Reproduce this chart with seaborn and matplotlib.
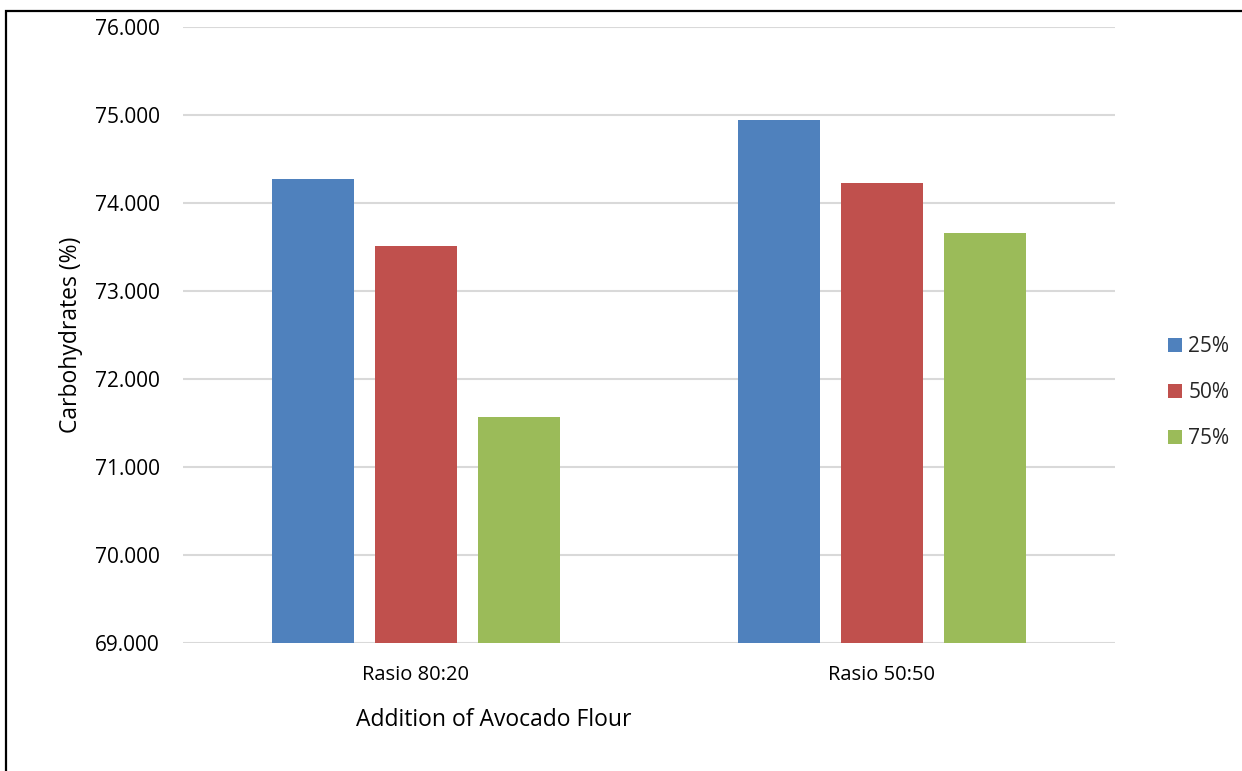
import matplotlib
matplotlib.use("Agg")
import matplotlib.pyplot as plt
import matplotlib.patches as mpatches
import seaborn as sns
import pandas as pd

# Carbohydrate content by flour ratio and avocado flour addition
ratios = ["Rasio 80:20", "Rasio 50:50"]
levels = ["25%", "50%", "75%"]
carbs_80_20 = [74.27, 73.51, 71.57]
carbs_50_50 = [74.94, 74.23, 73.66]
colors = ["#4F81BD", "#C0504D", "#9BBB59"]
y_ticks = [69, 70, 71, 72, 73, 74, 75, 76]

rows = []
for ratio, vals in zip(ratios, [carbs_80_20, carbs_50_50]):
    for lvl, v in zip(levels, vals):
        rows.append({"ratio": ratio, "level": lvl, "carbs": v})
df = pd.DataFrame(rows)

sns.set_theme(style="white")
plt.rcParams["font.family"] = ["Open Sans", "DejaVu Sans"]

W, H = 1242, 771
fig = plt.figure(figsize=(W / 100, H / 100), dpi=100)
ax = fig.add_axes([183 / W, 1 - 643 / H, (1115 - 183) / W, (643 - 27) / H])

sns.barplot(data=df, x="ratio", y="carbs", hue="level", order=ratios,
            hue_order=levels, palette=colors, width=0.663, gap=0.2,
            saturation=1, edgecolor="none", ax=ax, zorder=3)

ax.set_ylim(69, 76)
ax.set_xlim(-0.5, 1.5)
ax.set_yticks(y_ticks)
ax.set_yticklabels([f"{t:.3f}" for t in y_ticks], fontsize=15, color="#000000")
ax.tick_params(axis="y", length=0, pad=16.5)
ax.tick_params(axis="x", length=0, pad=16, labelsize=14.5, labelcolor="#000000")
ax.yaxis.grid(True, color="#d9d9d9", linewidth=1.5, zorder=0)
ax.set_axisbelow(True)
for s in ax.spines.values():
    s.set_visible(False)

ax.set_ylabel("Carbohydrates (%)", fontsize=16.5, color="#000000")
ax.yaxis.set_label_coords((83 - 183) / (1115 - 183), 0.5)
ax.set_xlabel("Addition of Avocado Flour", fontsize=16.5, color="#000000")
ax.xaxis.set_label_coords((494 - 183) / (1115 - 183), -(708 - 643) / (643 - 27))

handles = [mpatches.Patch(facecolor=c, edgecolor="none") for c in colors]
ax.get_legend().remove()
fig.legend(handles, levels, loc="center left",
           bbox_to_anchor=(1158 / W, 1 - 393 / H), frameon=False,
           fontsize=15, handlelength=0.65, handleheight=0.65,
           handletextpad=0.3, labelspacing=1.2, borderpad=0)

# Chart frame
fig.patches.append(mpatches.Rectangle((6 / W, -0.1), 1.2, 1 - 11 / H + 0.1,
                                      transform=fig.transFigure, fill=False,
                                      edgecolor="black", linewidth=1.6))

fig.savefig("out.png", dpi=100)
